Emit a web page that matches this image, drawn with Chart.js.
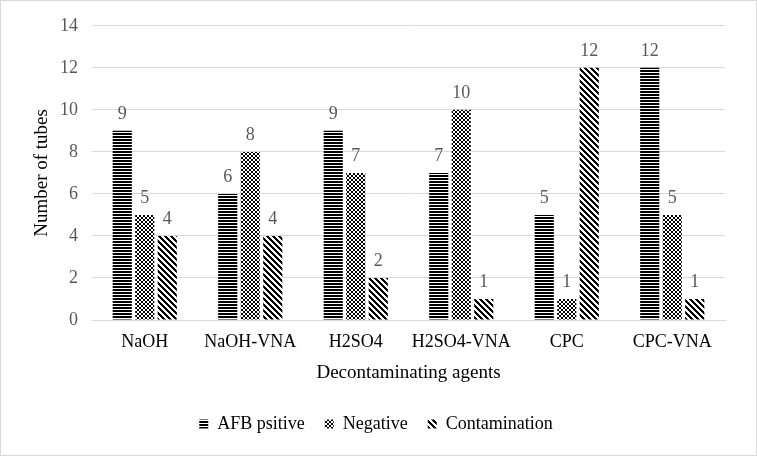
<!DOCTYPE html>
<html>
<head>
<meta charset="utf-8">
<script src="https://cdn.jsdelivr.net/npm/chart.js@4"></script>
<style>
  html, body { margin: 0; padding: 0; background: #fff; }
  #wrap { position: relative; width: 757px; height: 456px; box-sizing: border-box; border: 1px solid #d9d9d9; }
  canvas { display: block; }
</style>
</head>
<body>
<div id="wrap"><canvas id="chart" width="755" height="454"></canvas></div>
<script>
/* ---- data ---- */
var categories = ['NaOH', 'NaOH-VNA', 'H2SO4', 'H2SO4-VNA', 'CPC', 'CPC-VNA'];
var afbPositive = [9, 6, 9, 7, 5, 12];
var negative = [5, 8, 7, 10, 1, 5];
var contamination = [4, 4, 2, 1, 12, 1];
var yTicks = [0, 2, 4, 6, 8, 10, 12, 14];

var SERIF = '"Liberation Serif", "Times New Roman", serif';

/* ---- fill patterns ---- */
function makePattern(w, h, draw) {
    var c = document.createElement('canvas');
    c.width = w; c.height = h;
    var g = c.getContext('2d');
    g.fillStyle = '#fff';
    g.fillRect(0, 0, w, h);
    g.fillStyle = '#000';
    draw(g);
    return g.createPattern(c, 'repeat');
}

var hStripes = makePattern(1, 3, function(g) {
    g.fillRect(0, 0, 1, 2);
});
var checker = makePattern(4, 4, function(g) {
    g.fillRect(0, 0, 2, 2);
    g.fillRect(2, 2, 2, 2);
});
// "\" direction stripes
var diag = makePattern(6, 6, function(g) {
    for (var y = 0; y < 6; y++) {
        for (var k = 0; k < 3; k++) {
            g.fillRect((y + k) % 6, y, 1, 1);
        }
    }
});

/* ---- value labels above bars ---- */
var valueLabels = {
    id: 'valueLabels',
    afterDatasetsDraw: function(chart) {
        var ctx = chart.ctx;
        ctx.save();
        ctx.font = '18px ' + SERIF;
        ctx.fillStyle = '#595959';
        ctx.textAlign = 'center';
        ctx.textBaseline = 'alphabetic';
        chart.data.datasets.forEach(function(ds, i) {
            chart.getDatasetMeta(i).data.forEach(function(bar, j) {
                ctx.fillText(ds.data[j], bar.x, bar.y - 12);
            });
        });
        ctx.restore();
    }
};

new Chart(document.getElementById('chart'), {
    type: 'bar',
    data: {
        labels: categories,
        datasets: [
            { label: 'AFB psitive', data: afbPositive, backgroundColor: hStripes },
            { label: 'Negative', data: negative, backgroundColor: checker },
            { label: 'Contamination', data: contamination, backgroundColor: diag }
        ]
    },
    options: {
        responsive: false,
        animation: false,
        devicePixelRatio: 1,
        layout: { padding: { left: 26, right: 31, top: 18, bottom: 12 } },
        datasets: {
            bar: { categoryPercentage: 0.64, barPercentage: 0.85 }
        },
        plugins: {
            legend: {
                position: 'bottom',
                labels: {
                    font: { family: SERIF, size: 18 },
                    color: '#000',
                    boxWidth: 9,
                    boxHeight: 9,
                    padding: 20
                }
            },
            tooltip: { enabled: false }
        },
        scales: {
            x: {
                grid: { display: false, drawTicks: false },
                border: { color: '#d9d9d9' },
                ticks: {
                    font: { family: SERIF, size: 18, lineHeight: 1 },
                    color: '#000',
                    padding: 13,
                    maxRotation: 0,
                    minRotation: 0,
                    autoSkip: false
                },
                title: {
                    display: true,
                    text: 'Decontaminating agents',
                    font: { family: SERIF, size: 19, lineHeight: 1 },
                    color: '#000',
                    padding: { top: 0, bottom: 12 }
                }
            },
            y: {
                min: 0,
                max: 14,
                afterBuildTicks: function(axis) {
                    axis.ticks = yTicks.map(function(v) { return { value: v }; });
                },
                afterFit: function(axis) {
                    axis.width = 65;
                },
                grid: { color: '#d9d9d9', drawTicks: false },
                border: { display: false },
                ticks: { font: { family: SERIF, size: 18 }, color: '#595959', padding: 14 },
                title: {
                    display: true,
                    text: 'Number of tubes',
                    font: { family: SERIF, size: 19 },
                    color: '#000',
                    padding: { top: 4, bottom: 6 }
                }
            }
        }
    },
    plugins: [valueLabels]
});
</script>
</body>
</html>
